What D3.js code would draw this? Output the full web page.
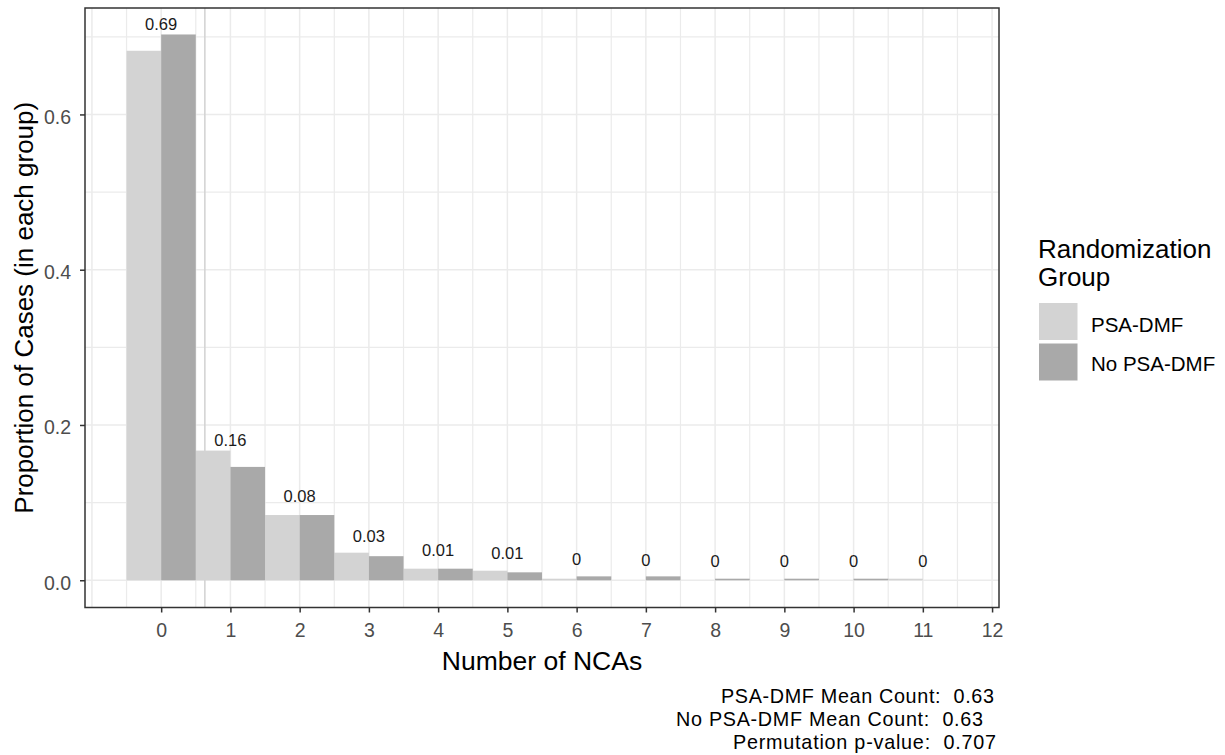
<!DOCTYPE html>
<html>
<head>
<meta charset="utf-8">
<script src="https://cdn.jsdelivr.net/npm/d3@7"></script>
<style>
  html, body { margin: 0; padding: 0; background: #ffffff; }
  svg { display: block; font-family: "Liberation Sans", Arial, sans-serif; }
</style>
</head>
<body>
<svg id="chart" width="1225" height="755"></svg>
<script>
// ---- data ----
const categories = [0, 1, 2, 3, 4, 5, 6, 7, 8, 9, 10, 11];
const psaDmf   = [0.682, 0.167, 0.084, 0.0355, 0.0149, 0.0123, 0.002, 0, 0, 0, 0, 0.002];
const noPsaDmf = [0.703, 0.146, 0.084, 0.031, 0.0149, 0.0102, 0.005, 0.005, 0.002, 0.002, 0.002, 0];
const barLabels = ["0.69", "0.16", "0.08", "0.03", "0.01", "0.01", "0", "0", "0", "0", "0", "0"];
const xTicks = [0, 1, 2, 3, 4, 5, 6, 7, 8, 9, 10, 11, 12];
const yTicks = [0, 0.2, 0.4, 0.6];
const yTickLabels = ["0.0", "0.2", "0.4", "0.6"];
const yMinor = [0.1, 0.3, 0.5, 0.7];
const seriesNames = ["PSA-DMF", "No PSA-DMF"];
const seriesColors = ["#d3d3d3", "#a9a9a9"];
const meanCounts = [0.63, 0.63];
const captionLines = ["PSA-DMF Mean Count:  0.63", "No PSA-DMF Mean Count:  0.63", "Permutation p-value:  0.707"];

// ---- layout ----
const svg = d3.select("#chart");
const panel = { left: 85, right: 999, top: 8, bottom: 607.5 };
const x = d3.scaleLinear().domain([-1.1, 12.1]).range([panel.left, panel.right]);
const y = d3.scaleLinear().domain([-0.0351, 0.7371]).range([panel.bottom, panel.top]);

// grid
const grid = svg.append("g");
const xGrid = d3.range(-1, 12.01, 0.5);
grid.selectAll("line.vg").data(xGrid).enter().append("line")
  .attr("x1", d => x(d)).attr("x2", d => x(d))
  .attr("y1", panel.top).attr("y2", panel.bottom)
  .attr("stroke", "#ebebeb")
  .attr("stroke-width", d => Number.isInteger(d) ? 1.5 : 1.2);
grid.selectAll("line.hg").data(yTicks.concat(yMinor)).enter().append("line")
  .attr("x1", panel.left).attr("x2", panel.right)
  .attr("y1", d => y(d)).attr("y2", d => y(d))
  .attr("stroke", "#ebebeb")
  .attr("stroke-width", (d, i) => i < yTicks.length ? 1.5 : 1.2);

// mean lines
svg.append("g").selectAll("line").data(meanCounts).enter().append("line")
  .attr("x1", d => x(d)).attr("x2", d => x(d))
  .attr("y1", panel.top).attr("y2", panel.bottom)
  .attr("stroke", "#d4d4d4").attr("stroke-width", 1.2);

// bars
const bars = svg.append("g");
[psaDmf, noPsaDmf].forEach((series, si) => {
  bars.selectAll("rect.s" + si).data(categories).enter().append("rect")
    .attr("x", d => si === 0 ? x(d - 0.5) : x(d))
    .attr("width", d => x(d + 0.5) - x(d))
    .attr("y", (d, i) => y(series[i]))
    .attr("height", (d, i) => y(0) - y(series[i]))
    .attr("fill", seriesColors[si]);
});

// bar labels
svg.append("g").selectAll("text").data(categories).enter().append("text")
  .attr("x", d => x(d))
  .attr("y", (d, i) => y((psaDmf[i] + noPsaDmf[i]) / 2 + 0.024))
  .attr("dy", "0.36em")
  .attr("text-anchor", "middle")
  .attr("font-size", "16.5px")
  .attr("fill", "#1a1a1a")
  .text((d, i) => barLabels[i]);

// panel border
svg.append("rect")
  .attr("x", panel.left).attr("y", panel.top)
  .attr("width", panel.right - panel.left).attr("height", panel.bottom - panel.top)
  .attr("fill", "none").attr("stroke", "#333333").attr("stroke-width", 1.5);

// axes
const xAxis = svg.append("g").attr("transform", `translate(0,${panel.bottom})`)
  .call(d3.axisBottom(x).tickValues(xTicks).tickFormat(d3.format("d")).tickSize(5).tickPadding(10.5));
xAxis.select(".domain").remove();
xAxis.selectAll(".tick line").attr("stroke", "#333333").attr("stroke-width", 1.5);
xAxis.selectAll(".tick text").attr("fill", "#4d4d4d").attr("font-size", "19.5px")
  .attr("font-family", "Liberation Sans, Arial, sans-serif");

const yAxis = svg.append("g").attr("transform", `translate(${panel.left},0)`)
  .call(d3.axisLeft(y).tickValues(yTicks).tickFormat((d, i) => yTickLabels[i]).tickSize(5).tickPadding(9));
yAxis.select(".domain").remove();
yAxis.selectAll(".tick line").attr("stroke", "#333333").attr("stroke-width", 1.5);
yAxis.selectAll(".tick text").attr("fill", "#4d4d4d").attr("font-size", "19.5px")
  .attr("dy", "0.45em")
  .attr("font-family", "Liberation Sans, Arial, sans-serif");

// axis titles
svg.append("text")
  .attr("x", (panel.left + panel.right) / 2).attr("y", 670)
  .attr("text-anchor", "middle").attr("font-size", "26.5px").attr("fill", "#000")
  .text("Number of NCAs");
svg.append("text")
  .attr("transform", `translate(33,${(panel.top + panel.bottom) / 2}) rotate(-90)`)
  .attr("text-anchor", "middle").attr("font-size", "26px").attr("fill", "#000")
  .text("Proportion of Cases (in each group)");

// legend
const legend = svg.append("g");
legend.append("text").attr("x", 1038).attr("y", 258).attr("font-size", "26px").text("Randomization");
legend.append("text").attr("x", 1038).attr("y", 286).attr("font-size", "26px").text("Group");
seriesNames.forEach((name, i) => {
  legend.append("rect")
    .attr("x", 1039).attr("y", 303 + i * 40.5)
    .attr("width", 38.5).attr("height", 37)
    .attr("fill", seriesColors[i]);
  legend.append("text")
    .attr("x", 1091).attr("y", 331.5 + i * 39)
    .attr("font-size", "20.5px").attr("fill", "#000")
    .text(name);
});

// caption
const capLeft = [721, 676, 733];
const capRight = [994, 983, 996];
const capY = [703, 726, 749];
svg.append("g").selectAll("text").data(captionLines).enter().append("text")
  .attr("x", (d, i) => capLeft[i]).attr("y", (d, i) => capY[i])
  .attr("textLength", (d, i) => capRight[i] - capLeft[i])
  .attr("lengthAdjust", "spacing")
  .attr("font-size", "19.8px").attr("fill", "#000")
  .attr("xml:space", "preserve").style("white-space", "pre")
  .text(d => d);
</script>
</body>
</html>
